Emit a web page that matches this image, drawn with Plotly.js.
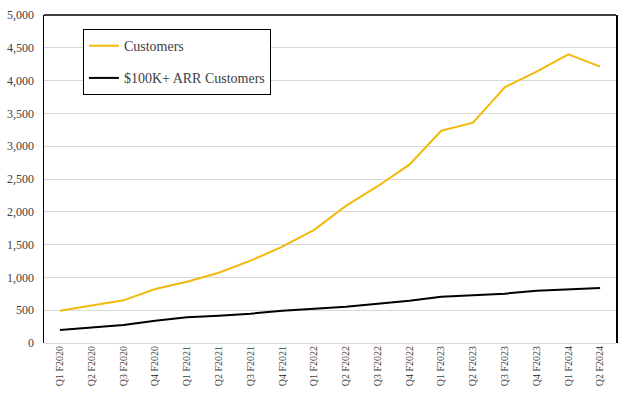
<!DOCTYPE html>
<html>
<head>
<meta charset="utf-8">
<script src="https://cdn.plot.ly/plotly-3.0.1.min.js"></script>
<style>html,body{margin:0;padding:0;background:#fff;}#chart{width:625px;height:398px;}</style>
</head>
<body>
<div id="chart"></div>
<script>
const quarters = ["Q1 F2020","Q2 F2020","Q3 F2020","Q4 F2020","Q1 F2021","Q2 F2021","Q3 F2021","Q4 F2021","Q1 F2022","Q2 F2022","Q3 F2022","Q4 F2022","Q1 F2023","Q2 F2023","Q3 F2023","Q4 F2023","Q1 F2024","Q2 F2024"];
const customers = [490, 570, 650, 823, 935, 1072, 1255, 1468, 1725, 2090, 2390, 2718, 3236, 3358, 3898, 4136, 4401, 4212];
const arr100k = [198, 232, 274, 340, 392, 416, 447, 493, 523, 553, 600, 645, 706, 732, 752, 798, 823, 838];
const yTicks = [0, 500, 1000, 1500, 2000, 2500, 3000, 3500, 4000, 4500, 5000];

const serif = "Liberation Serif, Times New Roman, serif";
const traces = [
  {x: quarters, y: customers, name: "Customers", type: "scatter", mode: "lines",
   line: {color: "#F2B90C", width: 2}, legendgroup: "a"},
  {x: quarters, y: arr100k, name: "$100K+ ARR Customers", type: "scatter", mode: "lines",
   line: {color: "#000000", width: 2}, legendgroup: "b"}
];
const layout = {
  width: 625, height: 398,
  margin: {l: 44, r: 9, t: 15, b: 55},
  paper_bgcolor: "#fff", plot_bgcolor: "#fff",
  font: {family: serif, color: "#404040"},
  showlegend: true,
  legend: {x: 0.068, y: 0.957, xanchor: "left", yanchor: "top",
    bordercolor: "#000", borderwidth: 1, bgcolor: "#fff",
    font: {family: serif, size: 14, color: "#404040"},
    traceorder: "grouped", tracegroupgap: 11, itemwidth: 30},
  xaxis: {type: "category", range: [-0.5, 17.5], tickangle: -90,
    tickfont: {family: serif, size: 10, color: "#404040"},
    showgrid: false, zeroline: false, showline: false, ticks: "", fixedrange: true},
  yaxis: {range: [0, 5000], tickvals: yTicks, tickformat: ",d",
    tickfont: {family: serif, size: 12, color: "#404040"},
    ticklabelstandoff: 6,
    showgrid: true, gridcolor: "#D9D9D9", gridwidth: 1,
    zeroline: true, zerolinecolor: "#D9D9D9", zerolinewidth: 1,
    showline: true, linecolor: "#000", linewidth: 1.5, mirror: true, ticks: ""},
  shapes: [{type: "line", xref: "paper", yref: "paper", x0: 0, x1: 1, y0: 1, y1: 1,
    line: {color: "#000", width: 1.5}}]
};
Plotly.newPlot("chart", traces, layout, {displayModeBar: false, staticPlot: true});
</script>
</body>
</html>
